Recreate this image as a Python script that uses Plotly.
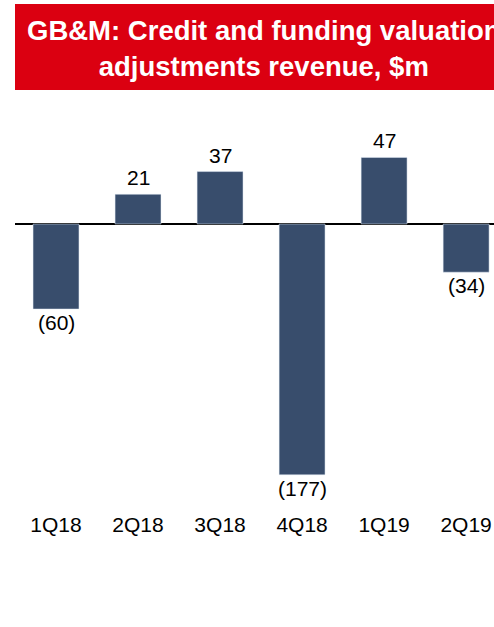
import plotly.graph_objects as go

categories = ["1Q18", "2Q18", "3Q18", "4Q18", "1Q19", "2Q19"]
values = [-60, 21, 37, -177, 47, -34]
labels = [f"({abs(v)})" if v < 0 else str(v) for v in values]

W, H = 494, 627
mt, mb, ml, mr = 100, 117, 15, 0
plot_h = H - mt - mb
plot_w = W - ml - mr

def py_to_paper(py):
    return (H - mb - py) / plot_h

def px_to_paper(px):
    return (px - ml) / plot_w

BAR = "#384D6C"
RED = "#DB0011"
FONT = "Liberation Sans, Arial"

fig = go.Figure()
fig.add_trace(go.Bar(x=categories, y=values, marker_color=BAR, width=0.56,
                     hoverinfo="skip"))

annotations = []
for c, v, t in zip(categories, values, labels):
    annotations.append(dict(x=c, y=v, xref="x", yref="y", text=t, showarrow=False,
                            yanchor="bottom" if v >= 0 else "top",
                            yshift=3 if v >= 0 else 0,
                            font=dict(family=FONT, size=21, color="#000000")))

annotations.append(dict(x=px_to_paper(264), y=py_to_paper(48), xref="paper", yref="paper",
                        text="<b>GB&M: Credit and funding valuation<br>adjustments revenue, $m</b>",
                        showarrow=False, xanchor="center", yanchor="middle",
                        font=dict(family=FONT, size=27.5, color="#FFFFFF")))

fig.update_layout(
    width=W, height=H,
    margin=dict(t=mt, b=mb, l=ml, r=mr, pad=0),
    paper_bgcolor="white", plot_bgcolor="white",
    showlegend=False,
    annotations=annotations,
    shapes=[dict(type="rect", xref="paper", yref="paper",
                 x0=0, x1=1.1, y0=py_to_paper(90), y1=py_to_paper(4),
                 fillcolor=RED, line=dict(width=0), layer="above")],
    xaxis=dict(range=[-0.5, 5.34], showgrid=False, showline=False, ticks="",
               tickfont=dict(family=FONT, size=21, color="#000000"),
               fixedrange=True),
    yaxis=dict(range=[-201.8, 87.5], showgrid=False, showticklabels=False,
               zeroline=True, zerolinecolor="#000000", zerolinewidth=2,
               showline=False, fixedrange=True),
)

fig.write_html("out.html",
               config={"displayModeBar": False},
               post_script="document.body.style.margin='0';document.body.style.overflow='hidden';")
